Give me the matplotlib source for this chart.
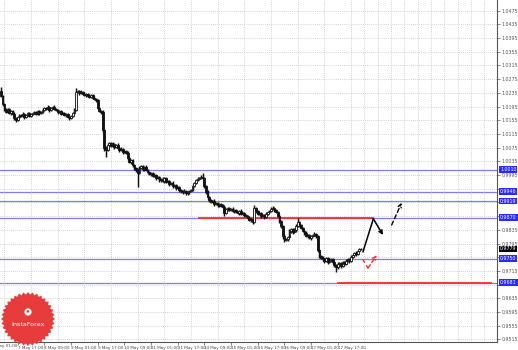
import matplotlib
matplotlib.use("Agg")
import matplotlib.pyplot as plt
import numpy as np
from matplotlib.patches import Polygon, Circle

# ---------------- data (AUD/USD H1, May 2012) ----------------
first_open = 1.0240
closes = [
    1.0226, 1.0202, 1.0185, 1.0179, 1.0188, 1.0176, 1.0182, 1.0173, 1.0161, 1.0156,
    1.0164, 1.0170, 1.0167, 1.0173, 1.0164, 1.0170, 1.0176, 1.0167, 1.0173, 1.0176,
    1.0179, 1.0173, 1.0182, 1.0176, 1.0179, 1.0185, 1.0191, 1.0188, 1.0194, 1.0185,
    1.0191, 1.0194, 1.0188, 1.0185, 1.0179, 1.0182, 1.0173, 1.0176, 1.0170, 1.0173,
    1.0164, 1.0161, 1.0167, 1.0176, 1.0185, 1.0237, 1.0240, 1.0234, 1.0237, 1.0232,
    1.0229, 1.0232, 1.0226, 1.0223, 1.0229, 1.0220, 1.0217, 1.0214, 1.0191, 1.0182,
    1.0179, 1.0126, 1.0074, 1.0068, 1.0083, 1.0088, 1.0080, 1.0085, 1.0077, 1.0083,
    1.0074, 1.0068, 1.0071, 1.0062, 1.0065, 1.0059, 1.0045, 1.0033, 1.0039, 1.0024,
    1.0015, 1.0010, 1.0001, 1.0015, 1.0021, 1.0012, 1.0018, 1.0010, 1.0004, 0.9998,
    1.0001, 0.9992, 0.9995, 0.9986, 0.9989, 0.9980, 0.9983, 0.9977, 0.9986, 0.9975,
    0.9977, 0.9969, 0.9972, 0.9963, 0.9966, 0.9957, 0.9960, 0.9951, 0.9948, 0.9945,
    0.9948, 0.9942, 0.9945, 0.9948, 0.9951, 0.9963, 0.9972, 0.9980, 0.9983, 0.9986,
    0.9989, 0.9986, 0.9963, 0.9945, 0.9931, 0.9922, 0.9916, 0.9919, 0.9910, 0.9913,
    0.9907, 0.9910, 0.9904, 0.9902, 0.9884, 0.9896, 0.9899, 0.9893, 0.9896, 0.9890,
    0.9893, 0.9887, 0.9884, 0.9890, 0.9881, 0.9884, 0.9878, 0.9875, 0.9869, 0.9864,
    0.9867, 0.9858, 0.9899, 0.9890, 0.9881, 0.9884, 0.9875, 0.9878, 0.9872, 0.9881,
    0.9887, 0.9890, 0.9896, 0.9899, 0.9893, 0.9887, 0.9875, 0.9861, 0.9846, 0.9817,
    0.9805, 0.9808, 0.9814, 0.9831, 0.9837, 0.9829, 0.9834, 0.9846, 0.9858, 0.9849,
    0.9840, 0.9831, 0.9826, 0.9817, 0.9820, 0.9811, 0.9817, 0.9820, 0.9823, 0.9817,
    0.9776, 0.9758, 0.9753, 0.9750, 0.9744, 0.9753, 0.9741, 0.9747, 0.9750, 0.9741,
    0.9732, 0.9726, 0.9735, 0.9738, 0.9729, 0.9741, 0.9735, 0.9744, 0.9750, 0.9744,
    0.9756, 0.9761, 0.9767, 0.9764, 0.9773, 0.9779, 0.9779,
]
# wick lengths in pips (above max(open,close) / below min(open,close))
wick_up = [
    12, 4, 3, 5, 2, 4, 3, 2, 5, 3, 4, 2, 3, 5, 2, 3, 4, 2, 3, 4,
    3, 2, 4, 3, 2, 5, 3, 2, 4, 3, 2, 3, 5, 2, 3, 4, 2, 3, 3, 2,
    3, 2, 4, 3, 5, 12, 4, 3, 5, 2, 4, 3, 2, 4, 3, 2, 5, 3, 4, 2,
    3, 6, 4, 5, 6, 3, 4, 5, 2, 3, 4, 3, 5, 2, 4, 3, 5, 3, 4, 2,
    3, 4, 5, 6, 3, 4, 2, 5, 3, 4, 3, 2, 5, 3, 4, 2, 3, 5, 2, 3,
    4, 2, 3, 5, 2, 4, 3, 2, 4, 3, 5, 2, 3, 4, 3, 5, 4, 3, 5, 4,
    6, 12, 4, 3, 5, 3, 4, 2, 5, 3, 4, 2, 3, 5, 4, 3, 2, 4, 3, 5,
    2, 3, 4, 2, 5, 3, 2, 4, 3, 5, 2, 3, 8, 4, 3, 5, 2, 4, 3, 5,
    4, 3, 5, 6, 3, 4, 2, 5, 3, 4, 6, 3, 4, 5, 3, 4, 5, 6, 11, 4,
    3, 4, 2, 5, 3, 4, 2, 3, 5, 4, 3, 4, 3, 5, 2, 4, 3, 5, 2, 4,
    3, 2, 5, 4, 3, 2, 4, 6, 3, 4, 5, 3, 4, 5, 3, 4, 3,
]
wick_dn = [
    4, 5, 3, 4, 2, 3, 5, 3, 4, 6, 2, 3, 4, 2, 5, 3, 2, 4, 3, 2,
    4, 3, 2, 5, 3, 2, 4, 3, 2, 5, 3, 4, 2, 3, 5, 2, 4, 3, 2, 5,
    4, 5, 3, 2, 3, 4, 3, 5, 2, 4, 3, 5, 2, 3, 4, 3, 2, 5, 4, 3,
    5, 8, 8, 20, 3, 5, 4, 2, 5, 3, 4, 6, 3, 5, 4, 3, 6, 4, 5, 6,
    5, 7, 41, 4, 3, 5, 4, 3, 6, 4, 5, 3, 4, 5, 3, 6, 4, 3, 5, 4,
    3, 5, 4, 6, 3, 5, 4, 6, 5, 4, 3, 5, 6, 4, 3, 2, 4, 3, 2, 3,
    4, 3, 5, 4, 6, 5, 3, 4, 5, 3, 4, 6, 3, 4, 8, 3, 5, 4, 3, 4,
    5, 3, 4, 6, 3, 4, 5, 3, 6, 4, 5, 6, 3, 5, 4, 3, 5, 4, 6, 3,
    4, 3, 2, 4, 5, 3, 4, 6, 5, 8, 6, 4, 5, 3, 4, 5, 3, 4, 3, 5,
    4, 3, 5, 4, 6, 3, 5, 4, 3, 5, 6, 5, 4, 6, 5, 3, 6, 4, 5, 7,
    5, 14, 4, 6, 5, 4, 5, 3, 4, 5, 3, 4, 3, 5, 3, 4, 3,
]

price_ticks = [1.0475, 1.0435, 1.0395, 1.0355, 1.0315, 1.0275, 1.0235, 1.0195,
               1.0155, 1.0115, 1.0075, 1.0035, 0.9995, 0.9955, 0.9915, 0.9875,
               0.9835, 0.9795, 0.9755, 0.9715, 0.9675, 0.9635, 0.9595, 0.9555, 0.9515]
time_labels = ["7 May 01:00", "7 May 17:00", "8 May 09:00", "9 May 01:00", "9 May 17:00",
               "10 May 09:00", "11 May 01:00", "11 May 17:00", "14 May 09:00",
               "15 May 01:00", "15 May 17:00", "16 May 09:00", "17 May 01:00", "17 May 17:00"]
time_label_bars = [-6, 10, 26, 42, 58, 74, 90, 106, 122, 138, 154, 170, 186, 202]

blue_levels = [1.0010, 0.9946, 0.9919, 0.9870, 0.9750, 0.9681]
red_upper = 0.9870
red_upper_span = [119, 223]
red_lower = 0.9681
red_lower_span = [202, 294]
current_price = 0.9779

path_solid_x = [217.2, 223.4, 229.2]
path_solid_y = [0.9771, 0.9867, 0.9820]
path_dash_x = [234.4, 240.4]
path_dash_y = [0.9849, 0.9914]
path_red_x = [217.0, 220.2, 225.4]
path_red_y = [0.9749, 0.9723, 0.9761]

# ---------------- figure ----------------
W, H = 518, 350
fig = plt.figure(figsize=(W / 100, H / 100), dpi=100)
fig.patch.set_facecolor("white")
ax = fig.add_axes([0, 8 / H, 497 / W, 342 / H])
ax.set_facecolor("white")

n = len(closes)
c = np.array(closes)
o = np.concatenate([[first_open], c[:-1]])
hi = np.maximum(o, c) + np.array(wick_up) / 1e4
lo = np.minimum(o, c) - np.array(wick_dn) / 1e4
idx = np.arange(n)

ymin, ymax = 0.95074, 1.0506
ax.set_xlim(-0.6, 297.6)
ax.set_ylim(ymin, ymax)
px_per_price = 342 / (ymax - ymin)

# grid
ax.set_yticks(price_ticks)
ax.set_xticks(time_label_bars[1:])
ax.set_xticks(np.arange(2, 298, 8), minor=True)
ax.grid(True, axis="y", color="#c4c4c4", linestyle=(0, (1, 1.5)), lw=0.6, zorder=0)
ax.grid(True, axis="x", which="minor", color="#c4c4c4", linestyle=(0, (1, 1.5)), lw=0.6, zorder=0)

# horizontal levels
for lv in blue_levels:
    ax.axhline(lv, color="#7b7bff", lw=0.9, zorder=1)
ax.plot(red_upper_span, [red_upper, red_upper], color="#ff2a2a", lw=1.3, zorder=2)
ax.plot(red_lower_span, [red_lower, red_lower], color="#ff2a2a", lw=1.3, zorder=2)

# candles
ax.vlines(idx, lo, hi, color="#111111", lw=1.05, zorder=3)
up = c >= o
ax.bar(idx[up], (c - o)[up], bottom=o[up], width=1.0, color="#f4f4f4",
       edgecolor="#111111", lw=0.6, zorder=4)
ax.bar(idx[~up], (c - o)[~up], bottom=o[~up], width=1.0, color="#111111",
       edgecolor="#111111", lw=0.6, zorder=4)

# forecast arrows
ax.plot(path_solid_x[:-1], path_solid_y[:-1], color="black", lw=1.1, zorder=5)
ax.annotate("", xy=(path_solid_x[-1], path_solid_y[-1]),
            xytext=(path_solid_x[-2], path_solid_y[-2]),
            arrowprops=dict(arrowstyle="->", color="black", lw=1.1,
                            mutation_scale=6, shrinkA=0, shrinkB=0), zorder=5)
ax.annotate("", xy=(path_dash_x[-1], path_dash_y[-1]),
            xytext=(path_dash_x[0], path_dash_y[0]),
            arrowprops=dict(arrowstyle="->", color="black", lw=1.0, linestyle=(0, (3, 2)),
                            mutation_scale=6, shrinkA=0, shrinkB=0), zorder=5)
ax.plot(path_red_x[:-1], path_red_y[:-1], color="#ff2a2a", lw=1.0,
        linestyle=(0, (3, 2)), zorder=5)
ax.annotate("", xy=(path_red_x[-1], path_red_y[-1]),
            xytext=(path_red_x[-2], path_red_y[-2]),
            arrowprops=dict(arrowstyle="->", color="#ff2a2a", lw=1.0, linestyle=(0, (3, 2)),
                            mutation_scale=6, shrinkA=0, shrinkB=0), zorder=5)

# axes styling
for s in ["left", "top"]:
    ax.spines[s].set_visible(False)
for s in ["right", "bottom"]:
    ax.spines[s].set_color("#555555")
    ax.spines[s].set_linewidth(0.8)
ax.yaxis.tick_right()
boxed = blue_levels + [current_price]
ylabels = []
for t in price_ticks:
    hidden = any(abs(t - b) * px_per_price < 5.0 for b in boxed)
    ylabels.append("" if hidden else f"{t:.4f}")
ax.set_yticklabels(ylabels)
ax.tick_params(axis="y", labelsize=3.4, labelcolor="#555555", length=2, width=0.5,
               color="#555555", pad=1.5)
ax.set_xticklabels(time_labels[1:])
ax.tick_params(axis="x", labelsize=3.0, labelcolor="#444444", length=2, width=0.5,
               color="#555555", pad=1)
ax.tick_params(axis="x", which="minor", length=0)
for lbl in ax.get_xticklabels():
    lbl.set_ha("left")
ax.text(time_label_bars[0] + 0.8, -0.0045, time_labels[0], transform=ax.get_xaxis_transform(),
        fontsize=3.0, color="#444444", ha="left", va="top", clip_on=False)

# level boxes on the price axis
ytr = ax.get_yaxis_transform()
for lv in blue_levels:
    ax.text(1.006, lv, f"{lv:.4f}", transform=ytr, fontsize=3.4, color="white",
            va="center", ha="left", clip_on=False, zorder=10,
            bbox=dict(boxstyle="square,pad=0.2", fc="#2a2aff", ec="none"))
ax.text(1.006, current_price, f"{current_price:.4f}", transform=ytr, fontsize=3.4,
        color="white", va="center", ha="left", clip_on=False, zorder=11,
        bbox=dict(boxstyle="square,pad=0.2", fc="black", ec="none"))

# InstaForex badge (overlay in pixel coords)
ov = fig.add_axes([0, 0, 1, 1], facecolor="none")
ov.set_xlim(0, W)
ov.set_ylim(H, 0)
ov.axis("off")
cx, cy = 28, 319
ang = np.linspace(0, 2 * np.pi, 73)[:-1]
rad = np.where(np.arange(72) % 2 == 0, 27.0, 24.5)
ov.add_patch(Polygon(np.column_stack([cx + rad * np.cos(ang), cy + rad * np.sin(ang)]),
                     closed=True, fc="#e63c3c", ec="none"))
ov.add_patch(Circle((cx, cy - 7), 3.6, fc="white", ec="none"))
ov.add_patch(Circle((cx, cy - 7.6), 1.3, fc="#e63c3c", ec="none"))
ov.text(cx, cy + 5, "InstaForex", color="white", fontsize=4.6, ha="center", va="center")

fig.savefig("out.png", dpi=100, facecolor="white")
